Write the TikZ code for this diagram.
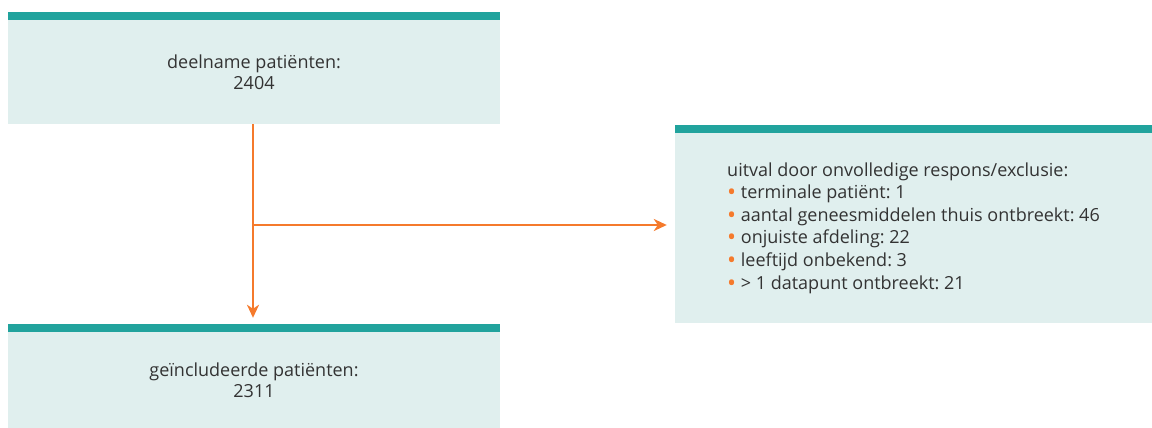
\documentclass[tikz,border=0pt]{standalone}
\usepackage{fontspec}
\setmainfont{Open Sans}
\usepackage{tikz}
\usetikzlibrary{arrows.meta}
\frenchspacing

\definecolor{boxteal}{HTML}{21A39D}
\definecolor{boxfill}{HTML}{E0EFEE}
\definecolor{flowline}{HTML}{F57A2C}
\definecolor{txtgrey}{HTML}{333333}
\newcommand{\ibul}{\smash{\raisebox{-2pt}{\color{flowline}\fontsize{24}{0}\selectfont\textbullet}}\ }

\begin{document}
\begin{tikzpicture}[x=1pt,y=-1pt]
    \useasboundingbox (0,0) rectangle (1152,428);
    
    \tikzset{flowbox/.style={fill=boxfill,draw=none,inner sep=0pt,align=center,
        text=txtgrey,font=\fontsize{18}{21}\selectfont,
        append after command={\pgfextra{\fill[boxteal] (\tikzlastnode.north west) rectangle ([yshift=8pt]\tikzlastnode.north east);}}},
        flowarrow/.style={-{Stealth[length=13pt,width=12pt,inset=4pt]},draw=flowline,line width=2.4pt}}
    
    \node[flowbox,minimum width=492pt,minimum height=104pt] (deelname) at (254,72) {deelname patiënten:\\2404};
    \node[flowbox,minimum width=492pt,minimum height=96pt] (incl) at (254,380) {geïncludeerde patiënten:\\2311};
    \node[flowbox,minimum width=477pt,minimum height=190pt,align=left,
        font=\fontsize{18}{22.6}\selectfont] (uitval) at (913.5,228) {uitval door onvolledige respons/exclusie:\\
        \ibul terminale patiënt: 1\\
        \ibul aantal geneesmiddelen thuis ontbreekt: 46\\
        \ibul onjuiste afdeling: 22\\
        \ibul leeftijd onbekend: 3\\
        \ibul > 1 datapunt ontbreekt: 21};
    
    \coordinate (split) at (253,225);
    
    \draw[flowarrow] (deelname.south -| split) -- ([yshift=14pt]incl.north -| split);
    \draw[flowarrow] (split) -- ([xshift=-8pt]uitval.west |- split);
\end{tikzpicture}
\end{document}
